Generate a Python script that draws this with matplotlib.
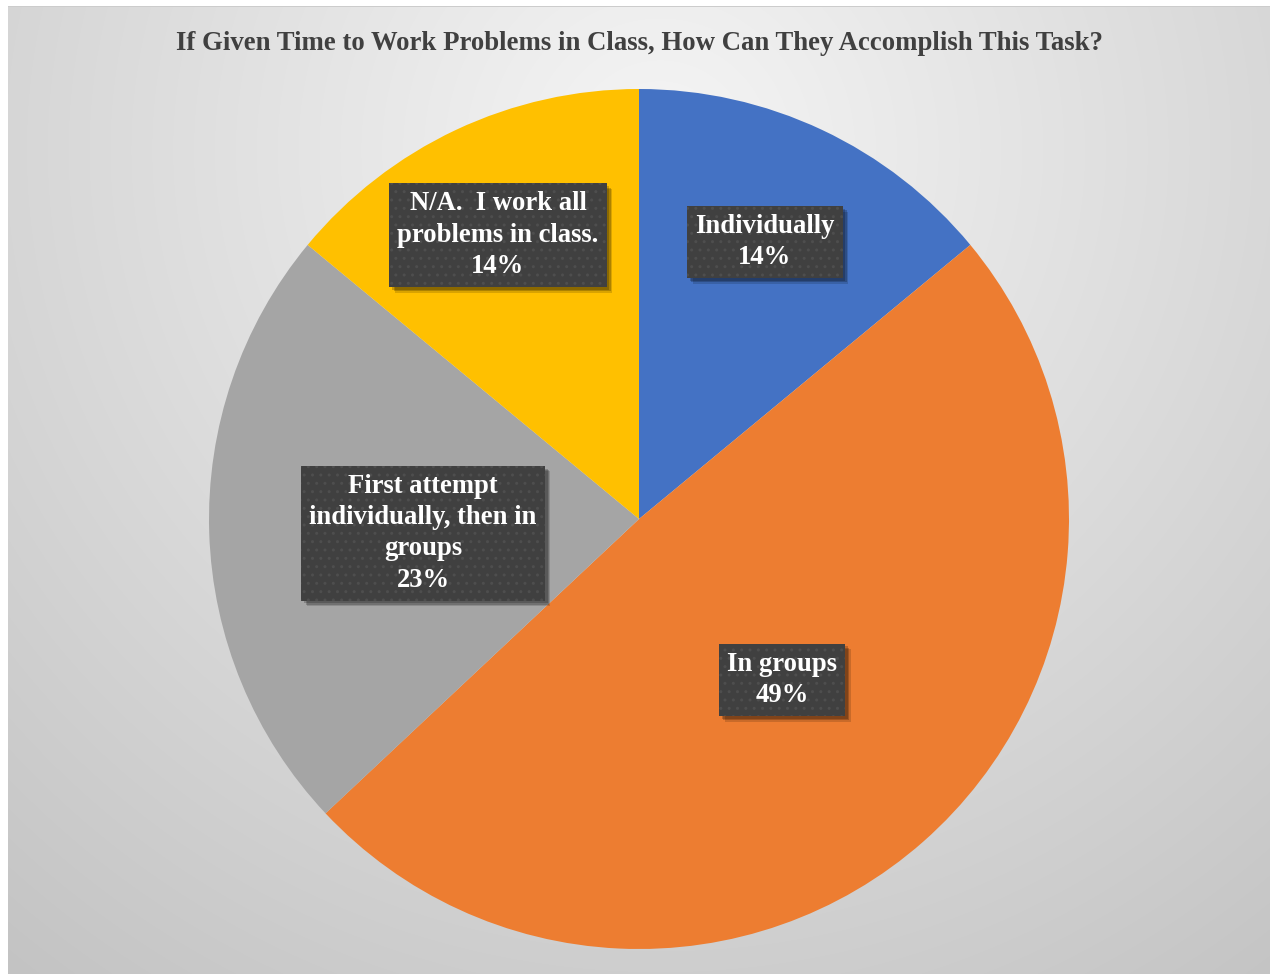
import numpy as np
import matplotlib.pyplot as plt
import matplotlib.patheffects as pe

plt.rcParams['font.family'] = ['Liberation Serif', 'DejaVu Serif']

title = 'If Given Time to Work Problems in Class, How Can They Accomplish This Task?'
categories = ['Individually', 'In groups', 'First attempt\nindividually, then in\ngroups',
              'N/A.  I work all\nproblems in class.']
shares = [14, 49, 23, 14]
colors = ['#4472C4', '#ED7D31', '#A5A5A5', '#FFC000']

# where each data label box sits, in pie units (radius = 1)
label_pos = [(0.293, 0.644), (0.333, -0.374), (-0.502, -0.033), (-0.328, 0.660)]

W, H = 1270, 974
fig = plt.figure(figsize=(W / 100, H / 100), dpi=100)

# chart area background: soft radial grey gradient
bg = fig.add_axes([0, 0, 1, 1])
yy, xx = np.mgrid[0:H, 0:W]
d = np.hypot(xx - 660, yy - 150) / 1050
d = np.clip(d, 0, 1)
shade = 0.962 - (0.962 - 0.765) * d
img = np.dstack([shade] * 3)
# white margin round the chart area
img[:, :8] = 1.0
img[:6, :] = 1.0
img[6, 8:] = 0.80
bg.imshow(img, extent=(0, W, H, 0), interpolation='bilinear')
bg.set_xlim(0, W)
bg.set_ylim(H, 0)
bg.axis('off')

bg.text(639, 43, title, ha='center', va='center', fontsize=19.3,
        fontweight='bold', color='#404040')

# pie axes: center at (639, 519) px, radius 430 px
cx, cy, r = 639, 519, 430
ax = fig.add_axes([(cx - r) / W, (H - cy - r) / H, 2 * r / W, 2 * r / H])
ax.pie(shares, colors=colors, startangle=90, counterclock=False, radius=1,
       wedgeprops=dict(linewidth=0))
ax.set_xlim(-1, 1)
ax.set_ylim(-1, 1)
ax.axis('off')

text_kw = dict(ha='center', va='center', fontsize=19.2, fontweight='bold',
               linespacing=1.33)
for name, val, (lx, ly) in zip(categories, shares, label_pos):
    s = f'{name}\n{val}%'
    # plain box underneath that only carries the soft drop shadow
    under = ax.text(lx, ly, s, color='none', zorder=5,
                    bbox=dict(boxstyle='square,pad=0.3', facecolor='#404040',
                              linewidth=0), **text_kw)
    under.get_bbox_patch().set_path_effects([
        pe.SimplePatchShadow(offset=(4, -4), shadow_rgbFace='black', alpha=0.15),
        pe.SimplePatchShadow(offset=(3, -3), shadow_rgbFace='black', alpha=0.2),
        pe.SimplePatchShadow(offset=(2, -2), shadow_rgbFace='black', alpha=0.2),
        pe.Normal()])
    # dotted label box with the text on top
    ax.text(lx, ly, s, color='white', zorder=6,
            bbox=dict(boxstyle='square,pad=0.3', facecolor='#404040',
                      edgecolor='#4e4e4e', linewidth=0, hatch='..'), **text_kw)

fig.savefig('out.png', dpi=100)
